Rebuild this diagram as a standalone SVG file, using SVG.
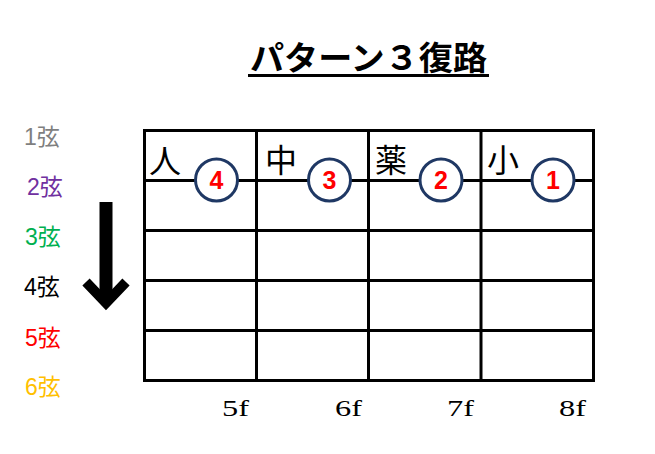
<svg xmlns="http://www.w3.org/2000/svg" width="655" height="454" viewBox="0 0 655 454">
<style>
.grid{stroke:#000;stroke-width:3;fill:none}
.str{font-family:"Liberation Sans","Noto Sans CJK JP",sans-serif;font-size:23px}
.kan{font-family:"Noto Sans CJK JP",serif;font-size:32px;fill:#000}
.circ{fill:#fff;stroke:#1F3864;stroke-width:3}
.num{font-family:"Liberation Sans",sans-serif;font-size:25px;font-weight:bold;fill:#FF0000;text-anchor:middle}
.fret{font-family:"Liberation Serif",serif;font-size:23px;fill:#000}
</style>
<rect width="655" height="454" fill="#fff"/>
<g id="title">
<text x="250" y="70" textLength="237" lengthAdjust="spacingAndGlyphs" font-family="Liberation Sans, Noto Sans CJK JP, sans-serif" font-size="33" font-weight="bold">パターン３復路</text>
<line x1="248" y1="75.5" x2="489" y2="75.5" stroke="#000" stroke-width="3"/>
</g>
<g id="strings">
<text class="str" x="24" y="145" fill="#7F7F7F">1弦</text>
<text class="str" x="27" y="195" fill="#7030A0">2弦</text>
<text class="str" x="25" y="245" fill="#00B050">3弦</text>
<text class="str" x="24" y="295" fill="#000">4弦</text>
<text class="str" x="25" y="346" fill="#FF0000">5弦</text>
<text class="str" x="25" y="395" fill="#FFC000">6弦</text>
</g>
<g id="arrow">
<line x1="106" y1="202" x2="106" y2="298" stroke="#000" stroke-width="13"/>
<polyline points="86,282 106,303 126,282" fill="none" stroke="#000" stroke-width="10"/>
</g>
<g id="fretboard">
<rect class="grid" x="144.5" y="130.5" width="449" height="250"/>
<line class="grid" x1="144.5" y1="180.5" x2="593.5" y2="180.5"/>
<line class="grid" x1="144.5" y1="230.5" x2="593.5" y2="230.5"/>
<line class="grid" x1="144.5" y1="280.5" x2="593.5" y2="280.5"/>
<line class="grid" x1="144.5" y1="330.5" x2="593.5" y2="330.5"/>
<line class="grid" x1="256.5" y1="130.5" x2="256.5" y2="380.5"/>
<line class="grid" x1="368.5" y1="130.5" x2="368.5" y2="380.5"/>
<line class="grid" x1="481" y1="130.5" x2="481" y2="380.5"/>
</g>
<g id="finger4">
<text class="kan" x="149" y="173">人</text>
<circle class="circ" cx="216.5" cy="180" r="21"/>
<text class="num" x="216.5" y="189">4</text>
</g>
<g id="finger3">
<text class="kan" x="265" y="172">中</text>
<circle class="circ" cx="329.5" cy="180" r="21"/>
<text class="num" x="329.5" y="189">3</text>
</g>
<g id="finger2">
<text class="kan" x="375" y="172">薬</text>
<circle class="circ" cx="441" cy="180" r="21"/>
<text class="num" x="441" y="189">2</text>
</g>
<g id="finger1">
<text class="kan" x="487" y="172">小</text>
<circle class="circ" cx="553" cy="180" r="21"/>
<text class="num" x="553" y="189">1</text>
</g>
<g id="frets">
<text class="fret" x="222" y="416" textLength="27" lengthAdjust="spacingAndGlyphs">5f</text>
<text class="fret" x="335" y="416" textLength="27" lengthAdjust="spacingAndGlyphs">6f</text>
<text class="fret" x="447" y="416" textLength="27" lengthAdjust="spacingAndGlyphs">7f</text>
<text class="fret" x="559" y="416" textLength="27" lengthAdjust="spacingAndGlyphs">8f</text>
</g>
</svg>
